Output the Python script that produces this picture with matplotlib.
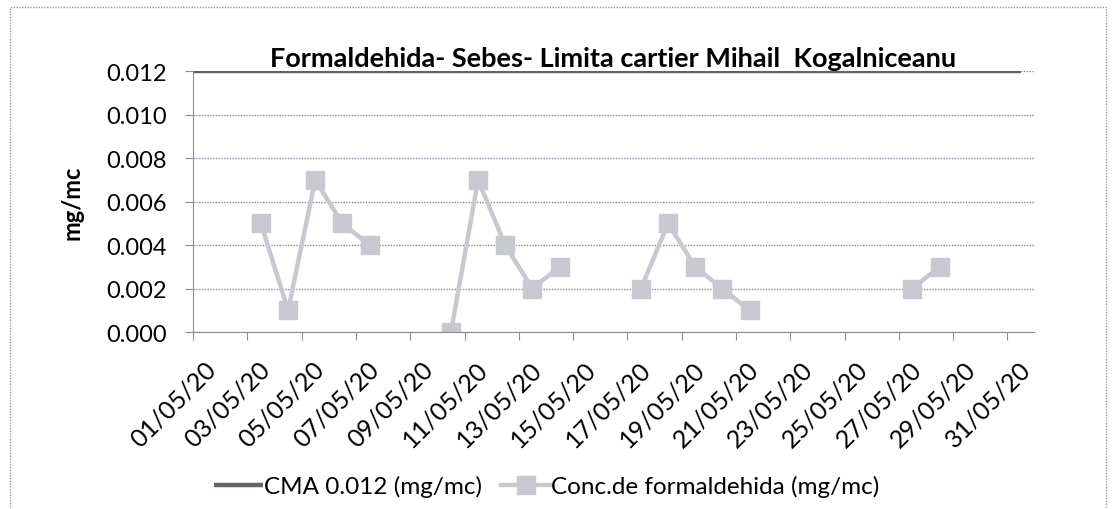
import numpy as np
import matplotlib
matplotlib.use("Agg")
import matplotlib.pyplot as plt
from matplotlib.patches import Rectangle

plt.rcParams['font.family'] = ['Lato', 'DejaVu Sans']

# zilele din mai 2020 cu masuratori si concentratiile (mg/mc)
zile = [3, 4, 5, 6, 7, 10, 11, 12, 13, 14, 17, 18, 19, 20, 21, 27, 28]
conc = [0.005, 0.001, 0.007, 0.005, 0.004,
        0.000, 0.007, 0.004, 0.002, 0.003,
        0.002, 0.005, 0.003, 0.002, 0.001,
        0.002, 0.003]
cma = 0.012
zile_ticks = list(range(1, 32, 2))
etichete = ['%02d/05/20' % z for z in zile_ticks]
y_ticks = [0.000, 0.002, 0.004, 0.006, 0.008, 0.010, 0.012]

# serie pe toate zilele, cu goluri unde lipsesc masuratorile
toate = np.arange(1, 32)
valori = np.full(len(toate), np.nan)
for z, c in zip(zile, conc):
    valori[z - 1] = c

fig = plt.figure(figsize=(11.16, 5.10), dpi=100)
ax = fig.add_axes([0.173, 0.347, 0.754, 0.511])

gri_grid = '#8a8aa0'
ax.set_xlim(1, 32)
ax.set_ylim(0, 0.012)
ax.set_yticks(y_ticks)
ax.set_yticklabels(['%.3f' % v for v in y_ticks], fontsize=17)

# liniutele la inceputul zilei, etichetele in mijlocul intervalului
ax.set_xticks(zile_ticks)
ax.set_xticklabels([])
ax.set_xticks([z + 0.4 for z in zile_ticks], minor=True)
ax.set_xticklabels(etichete, minor=True, rotation=45, ha='right', va='top',
                   rotation_mode='anchor', fontsize=18)
ax.tick_params(axis='x', which='minor', length=0, pad=18)

ax.grid(axis='y', linestyle=(0, (1, 1)), color=gri_grid, linewidth=1)
for s in ['top', 'right']:
    ax.spines[s].set_visible(False)
for s in ['left', 'bottom']:
    ax.spines[s].set_linestyle((0, (1, 1)))
    ax.spines[s].set_color(gri_grid)
ax.tick_params(axis='both', which='major', color=gri_grid, length=6)
ax.tick_params(axis='y', pad=13)

# punctele sunt la mijlocul zilei (axa de date Excel)
l1, = ax.plot([1, 31.5], [cma, cma], color='#62626e', linewidth=3.2,
              label='CMA 0.012 (mg/mc)', solid_capstyle='butt')
l2, = ax.plot(toate + 0.5, valori, color='#c8c8d0', linewidth=3.2,
              marker='s', markersize=13.5, markerfacecolor='#c8c8d0',
              markeredgecolor='#c8c8d0', label='Conc.de formaldehida (mg/mc)')

ax.set_ylabel('mg/mc', fontsize=17, fontweight='bold')
ax.yaxis.set_label_coords(-0.13, 0.5)
fig.text(0.549, 0.869, 'Formaldehida- Sebes- Limita cartier Mihail  Kogalniceanu',
         ha='center', va='baseline', fontsize=19.5, fontweight='bold')

fig.legend(handles=[l1, l2], loc='center', bbox_to_anchor=(0.49, 0.045),
           ncol=2, frameon=False, fontsize=17.5, handlelength=2.0,
           columnspacing=0.8, handletextpad=0.05)

fig.patches.append(Rectangle((0.009, -0.02), 0.982, 1.005, transform=fig.transFigure,
                             fill=False, edgecolor='#9a9aa8', linestyle=(0, (1, 1)),
                             linewidth=1))

fig.savefig('out.png', dpi=100)
